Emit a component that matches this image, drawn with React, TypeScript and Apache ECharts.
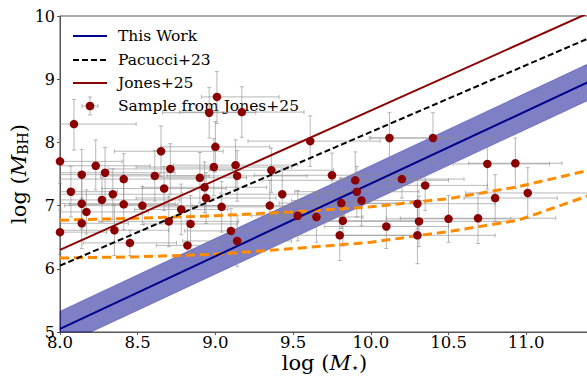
import React, { useEffect, useRef } from "react";
import * as echarts from "echarts";

// ---- Data ----
// This Work relation (endpoints) and its shaded band
const thisWorkX = [8.0, 11.404];
const thisWorkY = [5.05, 8.96];
const thisWorkUpper = [5.33, 9.25];
const thisWorkLower = [4.77, 8.67];

// Pacucci+23 relation (endpoints)
const pacucciX = [8.0, 11.404];
const pacucciY = [6.05, 9.65];

// Jones+25 relation (endpoints)
const jonesX = [8.0, 11.404];
const jonesY = [6.3, 10.05];

// Orange dashed limit curves
const limitX = [8.0, 8.5, 9.0, 9.5, 10.0, 10.5, 10.95, 11.404];
const limitUpper = [6.77, 6.8, 6.84, 6.9, 6.98, 7.11, 7.3, 7.56];
const limitLower = [6.17, 6.19, 6.23, 6.32, 6.42, 6.59, 6.77, 7.16];

// Sample from Jones+25: log M*, log MBH and asymmetric errors
const sampleX = [
  8.0, 8.09, 8.23, 8.29, 8.14, 8.65, 8.71, 8.41, 8.61, 8.99,
  8.9, 8.93, 8.67, 8.07, 8.34, 8.27, 8.14, 8.41, 8.53, 8.17,
  8.78, 8.94, 9.04, 9.13, 8.14, 8.7, 8.84, 8.0, 8.35, 9.1,
  8.45, 8.82, 9.01, 8.96, 9.17, 9.0, 9.61, 9.14, 9.36, 9.75,
  9.9, 9.43, 9.35, 9.91, 9.94, 9.81, 9.53, 9.65, 9.82, 9.8,
  9.14, 10.35, 10.3, 10.31, 10.1, 10.3, 10.5, 10.69, 10.8, 11.01,
  10.12, 10.4, 10.2, 10.75, 10.93,
];
const sampleY = [
  7.7, 8.29, 7.63, 7.52, 7.49, 7.86, 7.58, 7.42, 7.47, 7.61,
  7.44, 7.29, 7.27, 7.22, 7.18, 7.09, 7.03, 7.02, 7.0, 6.9,
  6.94, 7.12, 6.98, 7.64, 6.72, 6.75, 6.71, 6.58, 6.61, 6.6,
  6.41, 6.37, 8.72, 8.47, 8.48, 7.93, 8.02, 7.47, 7.56, 7.48,
  7.4, 7.18, 7.0, 7.22, 7.08, 7.04, 6.84, 6.82, 6.76, 6.53,
  6.44, 7.32, 7.03, 6.75, 6.67, 6.53, 6.79, 6.8, 7.12, 7.2,
  8.07, 8.07, 7.42, 7.66, 7.67,
];
const sampleXErrLo = [
  0.4, 0.4, 0.35, 0.45, 0.5, 0.3, 0.4, 0.5, 0.35, 0.5,
  0.3, 0.4, 0.4, 0.3, 0.45, 0.5, 0.6, 0.35, 0.5, 0.4,
  0.3, 0.45, 0.5, 0.4, 0.3, 0.45, 0.3, 0.3, 0.35, 0.3,
  0.3, 0.2, 0.1, 0.3, 0.4, 0.35, 0.4, 0.45, 0.4, 0.5,
  0.6, 0.4, 0.5, 0.4, 0.45, 0.4, 0.3, 0.3, 0.5, 0.5,
  0.35, 0.4, 0.5, 0.6, 0.4, 0.5, 0.4, 0.5, 0.2, 0.4,
  0.13, 0.4, 0.4, 0.22, 0.3,
];
const sampleXErrHi = [
  0.4, 0.4, 0.35, 0.45, 0.5, 0.4, 0.4, 0.5, 0.35, 0.5,
  0.3, 0.4, 0.4, 0.3, 0.45, 0.5, 0.6, 0.35, 0.5, 0.4,
  0.3, 0.45, 0.5, 0.4, 0.3, 0.45, 0.3, 0.3, 0.35, 0.3,
  0.3, 0.2, 0.4, 0.3, 0.4, 0.35, 0.45, 0.45, 0.4, 0.5,
  0.6, 0.4, 0.5, 0.4, 0.45, 0.4, 0.3, 0.3, 0.5, 0.5,
  0.35, 0.4, 0.5, 0.6, 0.4, 0.5, 0.4, 0.5, 0.4, 0.4,
  0.4, 0.4, 0.4, 0.4, 0.3,
];
const sampleYErrLo = [
  0.35, 0.41, 0.38, 0.4, 0.4, 0.4, 0.4, 0.4, 0.4, 0.45,
  0.4, 0.4, 0.35, 0.4, 0.4, 0.35, 0.4, 0.4, 0.3, 0.35,
  0.4, 0.4, 0.4, 0.4, 0.4, 0.4, 0.45, 0.35, 0.4, 0.35,
  0.2, 0.4, 0.42, 0.4, 0.4, 0.4, 0.4, 0.4, 0.35, 0.35,
  0.45, 0.4, 0.4, 0.4, 0.4, 0.4, 0.4, 0.4, 0.4, 0.4,
  0.4, 0.4, 0.4, 0.4, 0.35, 0.45, 0.37, 0.4, 0.37, 0.4,
  0.4, 0.4, 0.3, 0.4, 0.4,
];
const sampleYErrHi = [
  0.35, 0.39, 0.41, 0.4, 0.4, 0.4, 0.4, 0.4, 0.4, 0.45,
  0.4, 0.4, 0.35, 0.4, 0.4, 0.35, 0.4, 0.4, 0.3, 0.35,
  0.4, 0.4, 0.4, 0.4, 0.4, 0.4, 0.45, 0.35, 0.4, 0.35,
  0.2, 0.4, 0.4, 0.4, 0.4, 0.4, 0.4, 0.4, 0.35, 0.35,
  0.45, 0.4, 0.4, 0.4, 0.4, 0.4, 0.4, 0.4, 0.4, 0.4,
  0.4, 0.4, 0.4, 0.4, 0.35, 0.45, 0.37, 0.4, 0.37, 0.4,
  0.4, 0.4, 0.3, 0.4, 0.4,
];

const xTicksMin = 8.0;
const xTicksMax = 11.404;
const yTicksMin = 5;
const yTicksMax = 10;

const legendLabels = ["This Work", "Pacucci+23", "Jones+25", "Sample from Jones+25"];

const SERIF = "'DejaVu Serif'";
const SANS = "'DejaVu Sans'";
const NAVY = "#00008B";
const DARKRED = "#8B0000";
const ORANGE = "#FF8C00";
const ERRC = "rgba(140,140,140,0.62)";

function pairs(xs: number[], ys: number[]) {
  return xs.map((x, i) => [x, ys[i]]);
}

type Rect = { x: number; y: number; width: number; height: number };

// Sutherland–Hodgman polygon clip against an axis-aligned rect (pixel space)
function clipPolygon(pts: number[][], r: Rect): number[][] {
  const x0 = r.x, x1 = r.x + r.width, y0 = r.y, y1 = r.y + r.height;
  const ix = (a: number[], b: number[], xv: number) => {
    const t = (xv - a[0]) / (b[0] - a[0]);
    return [xv, a[1] + t * (b[1] - a[1])];
  };
  const iy = (a: number[], b: number[], yv: number) => {
    const t = (yv - a[1]) / (b[1] - a[1]);
    return [a[0] + t * (b[0] - a[0]), yv];
  };
  const edges: [(p: number[]) => boolean, (a: number[], b: number[]) => number[]][] = [
    [(p) => p[0] >= x0 - 1e-6, (a, b) => ix(a, b, x0)],
    [(p) => p[0] <= x1 + 1e-6, (a, b) => ix(a, b, x1)],
    [(p) => p[1] >= y0 - 1e-6, (a, b) => iy(a, b, y0)],
    [(p) => p[1] <= y1 + 1e-6, (a, b) => iy(a, b, y1)],
  ];
  let out = pts;
  for (const [inside, inter] of edges) {
    const input = out;
    out = [];
    for (let i = 0; i < input.length; i++) {
      const cur = input[i];
      const prev = input[(i + input.length - 1) % input.length];
      const ci = inside(cur);
      const pi = inside(prev);
      if (ci) {
        if (!pi) out.push(inter(prev, cur));
        out.push(cur);
      } else if (pi) {
        out.push(inter(prev, cur));
      }
    }
    if (!out.length) break;
  }
  return out;
}

export default function App() {
  const ref = useRef<HTMLDivElement>(null);

  useEffect(() => {
    if (!ref.current) return;
    const chart = echarts.init(ref.current, undefined, { renderer: "svg" });

    const sampleData = sampleX.map((x, i) => [
      x,
      sampleY[i],
      sampleXErrLo[i],
      sampleXErrHi[i],
      sampleYErrLo[i],
      sampleYErrHi[i],
    ]);

    const cap = 2;
    const errStyle = { stroke: ERRC, lineWidth: 1 };

    // legend built from graphic elements
    const rowY = [36, 60, 83, 106];
    const hx0 = 73;
    const hx1 = 107;
    const tx = 118;
    const legendGraphics: any[] = [
      { type: "line", shape: { x1: hx0, y1: rowY[0], x2: hx1, y2: rowY[0] }, style: { stroke: NAVY, lineWidth: 2 } },
      { type: "line", shape: { x1: hx0, y1: rowY[1], x2: hx1, y2: rowY[1] }, style: { stroke: "#000", lineWidth: 2, lineDash: [6, 3] } },
      { type: "line", shape: { x1: hx0, y1: rowY[2], x2: hx1, y2: rowY[2] }, style: { stroke: DARKRED, lineWidth: 2 } },
      { type: "line", shape: { x1: 82, y1: rowY[3], x2: 98, y2: rowY[3] }, style: errStyle },
      { type: "line", shape: { x1: 82, y1: rowY[3] - cap, x2: 82, y2: rowY[3] + cap }, style: errStyle },
      { type: "line", shape: { x1: 98, y1: rowY[3] - cap, x2: 98, y2: rowY[3] + cap }, style: errStyle },
      { type: "line", shape: { x1: 90, y1: rowY[3] - 9, x2: 90, y2: rowY[3] + 9 }, style: errStyle },
      { type: "line", shape: { x1: 90 - cap, y1: rowY[3] - 9, x2: 90 + cap, y2: rowY[3] - 9 }, style: errStyle },
      { type: "line", shape: { x1: 90 - cap, y1: rowY[3] + 9, x2: 90 + cap, y2: rowY[3] + 9 }, style: errStyle },
      { type: "circle", shape: { cx: 90, cy: rowY[3], r: 4.3 }, style: { fill: DARKRED } },
    ];
    legendLabels.forEach((t, i) => {
      legendGraphics.push({
        type: "text",
        x: tx,
        y: rowY[i],
        style: {
          text: t,
          fill: "#000",
          fontFamily: SERIF,
          fontSize: 15.5,
          verticalAlign: "middle",
          align: "left",
        },
      });
    });

    const richName = (subFamily: string, subSize: number) => ({
      a: { fontFamily: SERIF, fontSize: 21, color: "#000", lineHeight: 22 },
      i: { fontFamily: SERIF, fontStyle: "italic", fontSize: 21, color: "#000", lineHeight: 22 },
      s: { fontFamily: subFamily, fontSize: subSize, color: "#000", lineHeight: 8, verticalAlign: "bottom" },
    });

    const option: any = {
      animation: false,
      backgroundColor: "#fff",
      grid: {
        left: 60,
        top: 16,
        right: -2,
        bottom: 44,
        outerBoundsMode: "none",
        containLabel: false,
        show: true,
        borderColor: "#555",
        borderWidth: 1,
        backgroundColor: "transparent",
      },
      xAxis: {
        type: "value",
        min: xTicksMin,
        max: xTicksMax,
        interval: 0.5,
        splitLine: { show: false },
        axisLine: { show: true, lineStyle: { color: "#555", width: 1 } },
        axisTick: { show: true, length: 3, lineStyle: { color: "#555" } },
        axisLabel: {
          color: "#000",
          fontFamily: SERIF,
          fontSize: 16.5,
          margin: 2,
          showMaxLabel: false,
          formatter: (v: number) =>
            Math.abs(v * 2 - Math.round(v * 2)) < 1e-6 ? v.toFixed(1) : "",
        },
        name: "{a|log (}{i|M}{s|⋆}{a|)}",
        nameLocation: "middle",
        nameGap: 20,
        nameMoveOverlap: false,
        nameTextStyle: { rich: richName(SANS, 13) },
      },
      yAxis: {
        type: "value",
        min: yTicksMin,
        max: yTicksMax,
        interval: 1,
        splitLine: { show: false },
        axisLine: { show: true, lineStyle: { color: "#555", width: 1 } },
        axisTick: { show: true, length: 3, lineStyle: { color: "#555" } },
        axisLabel: {
          color: "#000",
          fontFamily: SERIF,
          fontSize: 16,
          margin: 5,
          formatter: (v: number) => String(Math.round(v)),
        },
        name: "{a|log (}{i|M}{s|BH}{a|)}",
        nameLocation: "middle",
        nameRotate: 90,
        nameGap: 30,
        nameMoveOverlap: false,
        nameTextStyle: { rich: richName(SERIF, 14) },
      },
      graphic: legendGraphics,
      series: [
        {
          type: "custom",
          name: "band",
          z: 1,
          silent: true,
          data: [[thisWorkX[0], thisWorkY[0]]],
          renderItem: (params: any, api: any) => {
            const rect: Rect = params.coordSys;
            const up = thisWorkX.map((x, i) => api.coord([x, thisWorkUpper[i]]));
            const lo = thisWorkX
              .map((x, i) => api.coord([x, thisWorkLower[i]]))
              .reverse();
            const pts = clipPolygon(up.concat(lo), rect);
            return {
              type: "polygon",
              shape: { points: pts },
              style: { fill: "rgba(0,0,139,0.5)", stroke: "rgba(0,0,139,0.5)", lineWidth: 0.6 },
            };
          },
        },
        {
          type: "custom",
          name: "errors",
          z: 2,
          silent: true,
          data: sampleData,
          renderItem: (params: any, api: any) => {
            const r: Rect = params.coordSys;
            const xmin = r.x, xmax = r.x + r.width, ymin = r.y, ymax = r.y + r.height;
            const cx = (v: number) => Math.min(xmax, Math.max(xmin, v));
            const cy = (v: number) => Math.min(ymax, Math.max(ymin, v));
            const x = api.value(0);
            const y = api.value(1);
            const xl = api.coord([x - api.value(2), y]);
            const xr = api.coord([x + api.value(3), y]);
            const yb = api.coord([x, y - api.value(4)]);
            const yt = api.coord([x, y + api.value(5)]);
            const mk = (x1: number, y1: number, x2: number, y2: number) => ({
              type: "line",
              shape: { x1, y1, x2, y2 },
              style: errStyle,
            });
            const children: any[] = [
              mk(cx(xl[0]), xl[1], cx(xr[0]), xr[1]),
              mk(yb[0], cy(yb[1]), yt[0], cy(yt[1])),
            ];
            if (xl[0] >= xmin) children.push(mk(xl[0], xl[1] - cap, xl[0], xl[1] + cap));
            if (xr[0] <= xmax) children.push(mk(xr[0], xr[1] - cap, xr[0], xr[1] + cap));
            if (yb[1] <= ymax) children.push(mk(yb[0] - cap, yb[1], yb[0] + cap, yb[1]));
            if (yt[1] >= ymin) children.push(mk(yt[0] - cap, yt[1], yt[0] + cap, yt[1]));
            return { type: "group", children };
          },
        },
        {
          type: "line",
          name: "limitUpper",
          z: 3,
          data: pairs(limitX, limitUpper),
          showSymbol: false,
          lineStyle: { color: ORANGE, width: 3, type: [9, 5] },
        },
        {
          type: "line",
          name: "limitLower",
          z: 3,
          data: pairs(limitX, limitLower),
          showSymbol: false,
          lineStyle: { color: ORANGE, width: 3, type: [9, 5] },
        },
        {
          type: "line",
          name: legendLabels[0],
          z: 3,
          data: pairs(thisWorkX, thisWorkY),
          showSymbol: false,
          lineStyle: { color: NAVY, width: 2 },
        },
        {
          type: "line",
          name: legendLabels[1],
          z: 3,
          data: pairs(pacucciX, pacucciY),
          showSymbol: false,
          lineStyle: { color: "#000", width: 2, type: [6, 3] },
        },
        {
          type: "line",
          name: legendLabels[2],
          z: 3,
          data: pairs(jonesX, jonesY),
          showSymbol: false,
          lineStyle: { color: DARKRED, width: 2 },
        },
        {
          type: "scatter",
          name: legendLabels[3],
          z: 4,
          data: pairs(sampleX, sampleY),
          symbol: "circle",
          symbolSize: 8.5,
          itemStyle: { color: DARKRED, opacity: 1 },
        },
      ],
    };

    chart.setOption(option);
    return () => chart.dispose();
  }, []);

  return (
    <div
      ref={ref}
      style={{ position: "fixed", left: 0, top: 0, width: 587, height: 376, background: "#fff" }}
    />
  );
}
